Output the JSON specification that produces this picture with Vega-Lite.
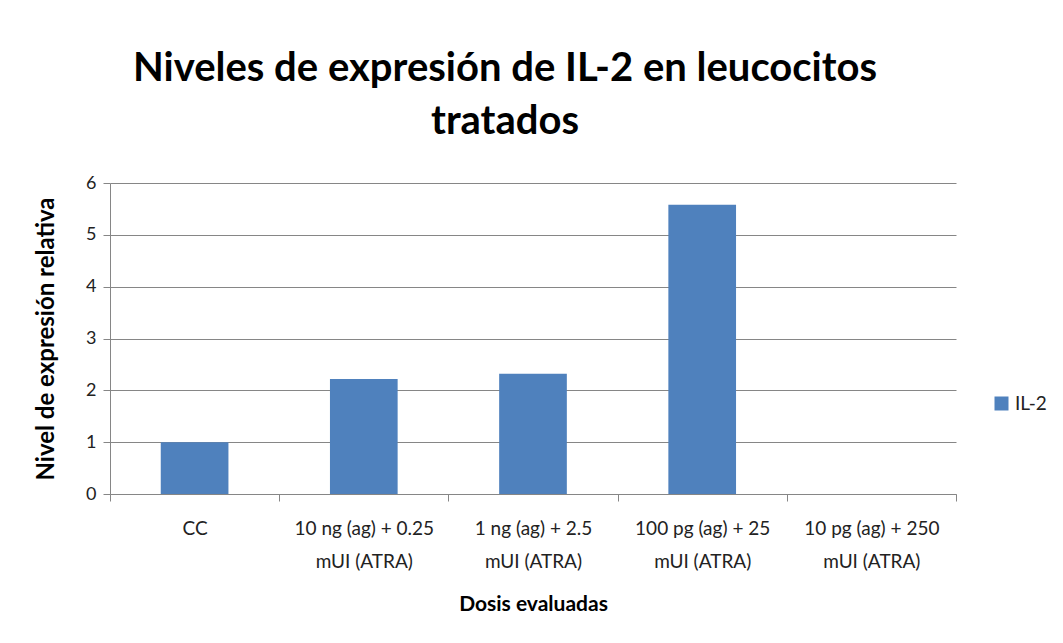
{
  "$schema": "https://vega.github.io/schema/vega-lite/v6.json",
  "width": 846,
  "height": 311,
  "autosize": {"type": "none"},
  "padding": {"left": 110, "top": 183, "right": 107, "bottom": 149},
  "background": "white",
  "title": {
    "text": ["Niveles de expresión de IL-2 en leucocitos", "tratados"],
    "font": "Lato",
    "fontSize": 40,
    "fontWeight": "bold",
    "color": "#000000",
    "lineHeight": 53,
    "anchor": "middle",
    "dx": -28,
    "offset": 32
  },
  "data": {
    "values": [
      {"dosis": "CC", "serie": "IL-2", "valor": 1.0},
      {"dosis": "10 ng (ag) + 0.25 mUI (ATRA)", "serie": "IL-2", "valor": 2.22},
      {"dosis": "1 ng (ag) + 2.5 mUI (ATRA)", "serie": "IL-2", "valor": 2.32},
      {"dosis": "100 pg (ag) + 25 mUI (ATRA)", "serie": "IL-2", "valor": 5.58},
      {"dosis": "10 pg (ag) + 250 mUI (ATRA)", "serie": "IL-2", "valor": 0}
    ]
  },
  "mark": {"type": "bar", "width": {"band": 0.4}},
  "encoding": {
    "x": {
      "field": "dosis",
      "type": "nominal",
      "sort": null,
      "title": "Dosis evaluadas",
      "scale": {"paddingInner": 0, "paddingOuter": 0},
      "axis": {
        "labelAngle": 0,
        "labelExpr": "isString(datum.value) ? split(replace(datum.value, ' mUI', '|mUI'), '|') : ''",
        "labelLineHeight": 33,
        "labelLimit": 400,
        "labelFont": "Lato",
        "labelFontSize": 19,
        "labelColor": "#222222",
        "labelPadding": 18,
        "tickBand": "extent",
        "tickColor": "#868686",
        "tickSize": 7,
        "domainColor": "#868686",
        "titleFont": "Lato",
        "titleFontSize": 21,
        "titleFontWeight": "bold",
        "titleColor": "#000000",
        "titlePadding": 22
      }
    },
    "y": {
      "field": "valor",
      "type": "quantitative",
      "title": "Nivel de expresión relativa",
      "scale": {"domain": [0, 6], "nice": false},
      "axis": {
        "values": [0, 1, 2, 3, 4, 5, 6],
        "labelFont": "Lato",
        "labelFontSize": 18,
        "labelColor": "#222222",
        "labelPadding": 7,
        "tickColor": "#868686",
        "tickSize": 7,
        "domainColor": "#868686",
        "gridColor": "#868686",
        "gridOpacity": 1,
        "titleFont": "Lato",
        "titleFontSize": 24,
        "titleFontWeight": "bold",
        "titleColor": "#000000",
        "titlePadding": 27
      }
    },
    "color": {
      "field": "serie",
      "type": "nominal",
      "scale": {"range": ["#4F81BD"]},
      "legend": {
        "title": null,
        "orient": "none",
        "legendX": 882,
        "legendY": 211,
        "symbolType": "square",
        "symbolSize": 196,
        "labelFont": "Lato",
        "labelFontSize": 19,
        "labelColor": "#222222"
      }
    }
  },
  "config": {
    "view": {"stroke": null}
  }
}
